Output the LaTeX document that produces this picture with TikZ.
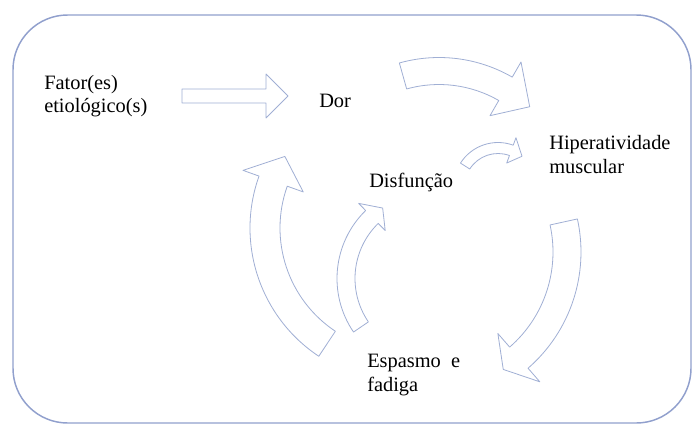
\documentclass[tikz,border=0pt]{standalone}
\usepackage{fontspec}
\setmainfont{Liberation Serif}
\usetikzlibrary{calc}
\definecolor{moldura}{RGB}{145,160,205}
\definecolor{contorno}{RGB}{160,175,212}

% seta curva: centro, raio, angulo inicial, angulo da base da ponta, angulo da ponta, meia largura, meia ponta
\newcommand{\setacurva}[7]{%
\draw[seta] ($(#1)+({#3}:{#2+#6})$) arc[start angle=#3,end angle=#4,radius=#2+#6]
  -- ($(#1)+({#4}:{#2+#7})$) -- ($(#1)+({#5}:{#2})$) -- ($(#1)+({#4}:{#2-#7})$)
  -- ($(#1)+({#4}:{#2-#6})$) arc[start angle=#4,end angle=#3,radius=#2-#6] -- cycle;}

\begin{document}
\begin{tikzpicture}[x=0.75pt,y=0.75pt,
  texto/.style={font=\fontsize{15.3}{17.3}\selectfont,text=black,align=left,inner sep=0pt,anchor=west},
  seta/.style={draw=contorno,line width=0.6pt,line join=round,fill=white}]
\useasboundingbox (0,0) rectangle (693,-429);
\draw[moldura,line width=1.1pt,rounded corners=41pt] (13,-15) rectangle (691,-423);
% textos
\node[texto] (fatores) at (44,-95.7) {Fator(es)\\etiológico(s)};
\node[texto] (dor) at (319,-101) {Dor};
\node[texto] (hiper) at (549,-154.5) {Hiperatividade\\muscular};
\node[texto] (disfuncao) at (369,-182) {Disfunção};
\node[texto] (espasmo) at (367,-375) {Espasmo\ \ e\\fadiga};
% seta reta
\draw[seta] (182,-89) -- (266,-89) -- (266,-74) -- (288,-96) -- (266,-118) -- (266,-103) -- (182,-103) -- cycle;
% setas curvas do ciclo
\setacurva{439,-204}{133}{105.7}{60}{47}{13.5}{31}
\setacurva{498,-187}{39}{147.5}{70}{52}{5.5}{13.5}
\setacurva{427,-252}{140}{12.4}{-49}{-57}{14}{32}
\setacurva{404,-228}{139}{236.4}{160.3}{149}{15}{32}
\setacurva{432,-278.5}{86}{214.3}{134.3}{125}{9}{19}
\end{tikzpicture}
\end{document}
